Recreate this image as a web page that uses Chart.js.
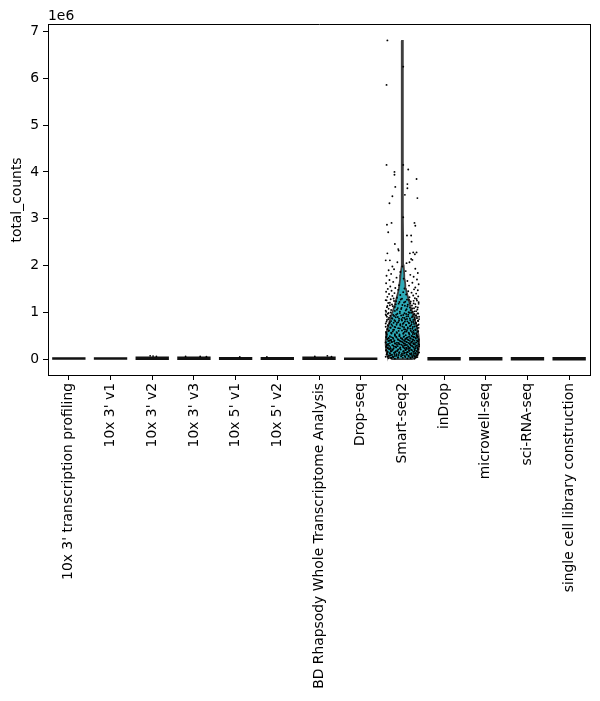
<!DOCTYPE html>
<html>
<head>
<meta charset="utf-8">
<script src="https://cdn.jsdelivr.net/npm/chart.js@4.4.1/dist/chart.umd.min.js"></script>
<style>
html,body{margin:0;padding:0;background:#fff;}
#wrap{width:600px;height:701px;}
</style>
</head>
<body>
<div id="wrap"><canvas id="c" width="600" height="701"></canvas></div>
<script>
// ---- data ----
const categories = [
  "10x 3' transcription profiling", "10x 3' v1", "10x 3' v2", "10x 3' v3",
  "10x 5' v1", "10x 5' v2", "BD Rhapsody Whole Transcriptome Analysis",
  "Drop-seq", "Smart-seq2", "inDrop", "microwell-seq", "sci-RNA-seq",
  "single cell library construction"
];
const yTicks = [0, 1, 2, 3, 4, 5, 6, 7]; // in units of 1e6
const yScaleFactor = 1e6;
const smartIndex = 8;

// Smart-seq2 violin: value (1e6) and half width (category units)
const violinValues = [0.0, 0.05, 0.12, 0.2, 0.3, 0.4, 0.5, 0.6, 0.7, 0.8, 0.9, 1.0, 1.1, 1.2, 1.3, 1.4, 1.5, 1.6, 1.7, 1.8, 2.0, 2.3, 2.6, 3.0, 3.5, 4.0, 4.5, 5.0, 6.0, 6.8];
const violinHalfWidth = [0.25, 0.33, 0.37, 0.39, 0.4, 0.4, 0.39, 0.37, 0.34, 0.31, 0.28, 0.24, 0.2, 0.17, 0.14, 0.11, 0.085, 0.07, 0.055, 0.045, 0.03, 0.02, 0.015, 0.012, 0.012, 0.012, 0.011, 0.011, 0.01, 0.01];

// Smart-seq2 cells: [jitter offset, total_counts (1e6)]
const smartPoints = [
  [-0.36,6.81],[0.02,6.25],[-0.38,5.86],[-0.38,4.15],[0.02,4.15],[0.14,4.05],[-0.19,4.0],[-0.19,3.94],[0.34,3.85],[0.12,3.74],
  [-0.17,3.68],[0.12,3.65],[0.36,3.44],[-0.24,3.48],[0.06,3.51],[-0.31,3.33],[0.02,3.03],[-0.26,2.91],[-0.37,2.87],[0.29,2.91],
  [0.31,2.85],[-0.34,2.71],[0.11,2.64],[0.21,2.64],[-0.18,2.46],[0.22,2.51],[-0.1,2.35],[-0.09,2.32],[-0.36,2.26],[0.18,2.26],
  [0.26,2.28],[0.34,2.28],[0.3,2.24],[-0.4,2.11],[-0.3,2.11],[0.21,2.14],[0.24,2.12],[-0.12,2.07],[0.1,2.05],[0.17,2.07],
  [-0.24,1.98],[-0.2,1.92],[0.0,1.98],
  [0.31,1.93],[-0.33,1.9],[0.08,1.88],[-0.05,1.86],[0.37,1.84],[-0.27,1.82],[0.19,1.8],[-0.38,1.78],[0.27,1.76],[-0.14,1.74],
  [0.03,1.72],[0.35,1.7],[-0.31,1.69],[0.12,1.67],[-0.22,1.65],[0.24,1.63],[-0.39,1.62],[0.39,1.6],[-0.08,1.58],[0.16,1.57],
  [-0.29,1.55],[0.31,1.53],[-0.17,1.52],[0.05,1.51],[-0.35,1.5],
  [0.28,1.49],[-0.1,1.48],[0.37,1.47],[-0.26,1.46],[0.14,1.45],[-0.39,1.44],[0.02,1.43],[0.22,1.42],[-0.19,1.41],[0.33,1.4],
  [-0.32,1.39],[0.09,1.38],[-0.05,1.37],[0.26,1.36],[-0.24,1.35],[0.38,1.34],[-0.36,1.33],[0.17,1.32],[-0.13,1.31],[0.3,1.3],
  [-0.01,1.29],[-0.28,1.28],[0.11,1.27],[-0.4,1.26],[0.35,1.25],[-0.2,1.24],[0.2,1.23],[-0.07,1.22],[0.04,1.21],[-0.34,1.2],
  [0.27,1.19],[0.39,1.18],[-0.16,1.17],[0.13,1.16],[-0.3,1.15],[0.06,1.14],[-0.23,1.13],[0.32,1.12],[-0.37,1.11],[0.18,1.1],
  [-0.11,1.09],[0.24,1.08],[-0.03,1.07],[0.36,1.06],[-0.27,1.05],[0.08,1.04],[-0.18,1.03],[0.29,1.02],[-0.39,1.01],[0.15,1.0],
  [0.21,0.99],[-0.33,0.985],[0.05,0.98],[0.38,0.975],[-0.12,0.97],[0.29,0.962],[-0.4,0.955],[0.14,0.95],[-0.22,0.944],[0.33,0.938],
  [-0.03,0.93],[-0.29,0.925],[0.24,0.918],[0.1,0.912],[-0.37,0.905],[0.35,0.9],[-0.16,0.893],[0.01,0.887],[0.3,0.88],[-0.25,0.874],
  [0.18,0.868],[-0.08,0.861],[0.4,0.855],[-0.34,0.85],[0.07,0.843],[0.26,0.837],[-0.19,0.83],[-0.01,0.825],[0.37,0.818],[-0.27,0.812],
  [0.12,0.806],[-0.38,0.8],[0.22,0.794],[-0.1,0.788],[0.32,0.782],[-0.21,0.776],[0.03,0.77],[0.16,0.764],[-0.31,0.758],[0.28,0.752],
  [-0.05,0.746],[0.39,0.74],[-0.14,0.734],[0.09,0.728],[-0.35,0.722],[0.2,0.716],[-0.24,0.71],[0.34,0.704],[0.0,0.698],[-0.4,0.692],
  [0.25,0.686],[-0.17,0.68],[0.13,0.674],[-0.28,0.668],[0.36,0.662],[-0.06,0.656],[0.19,0.65],[-0.36,0.644],[0.04,0.638],[0.31,0.632],
  [-0.2,0.626],[0.11,0.62],[-0.32,0.614],[0.27,0.608],[-0.09,0.602],[0.38,0.596],[-0.23,0.59],[0.06,0.584],[0.23,0.578],[-0.39,0.572],
  [0.15,0.566],[-0.13,0.56],[0.33,0.554],[-0.26,0.548],[0.02,0.542],[0.29,0.536],[-0.18,0.53],[0.17,0.524],[-0.37,0.518],[0.08,0.512],
  [0.35,0.506],[-0.07,0.5],
  [0.22,0.495],[-0.3,0.49],[0.04,0.486],[0.37,0.481],[-0.15,0.477],[0.28,0.472],[-0.39,0.468],[0.12,0.463],[-0.23,0.459],[0.32,0.454],
  [-0.04,0.45],[-0.33,0.445],[0.19,0.441],[0.09,0.436],[-0.36,0.432],[0.39,0.427],[-0.11,0.423],[0.0,0.418],[0.26,0.414],[-0.27,0.409],
  [0.15,0.405],[-0.07,0.4],[0.35,0.396],[-0.31,0.391],[0.06,0.387],[0.24,0.382],[-0.2,0.378],[-0.02,0.373],[0.38,0.369],[-0.25,0.364],
  [0.11,0.36],[-0.4,0.355],[0.21,0.351],[-0.09,0.346],[0.3,0.342],[-0.18,0.337],[0.03,0.333],[0.17,0.328],[-0.34,0.324],[0.27,0.319],
  [-0.06,0.315],[0.4,0.31],[-0.13,0.306],[0.08,0.301],[-0.37,0.297],[0.2,0.292],[-0.22,0.288],[0.33,0.283],[0.01,0.279],[-0.38,0.274],
  [0.25,0.27],[-0.16,0.265],[0.14,0.261],[-0.29,0.256],[0.36,0.252],[-0.05,0.247],[0.18,0.243],[-0.35,0.238],[0.05,0.234],[0.31,0.229],
  [-0.21,0.225],[0.1,0.22],[-0.32,0.216],[0.29,0.211],[-0.1,0.207],[0.37,0.202],[-0.24,0.198],[0.07,0.193],[0.23,0.189],[-0.39,0.184],
  [0.16,0.18],[-0.12,0.175],[0.34,0.171],[-0.26,0.166],[0.02,0.162],[0.28,0.157],[-0.17,0.153],[0.13,0.148],[-0.36,0.144],[0.09,0.139],
  [0.38,0.135],[-0.08,0.13],[0.22,0.126],[-0.3,0.121],[0.04,0.117],[0.32,0.112],[-0.19,0.108],[0.19,0.103],[-0.38,0.099],[0.11,0.094],
  [-0.03,0.09],[0.26,0.085],[-0.28,0.081],[0.36,0.076],[-0.14,0.072],[0.06,0.067],[0.3,0.063],[-0.23,0.058],[0.15,0.054],[-0.35,0.049],
  [0.24,0.045],[-0.1,0.04],[0.33,0.036],[-0.27,0.031],[0.01,0.027],[0.2,0.022],[-0.33,0.018],[0.12,0.013],[-0.18,0.009],[0.29,0.005]
];

// more Smart-seq2 cells in the dense lower part (parallel arrays)
const smartDenseJitter = [
  -0.21,0.34,-0.04,0.16,-0.38,0.27,-0.15,0.07,0.39,-0.3,0.19,-0.09,0.31,-0.25,0.0,0.23,-0.36,0.12,-0.18,0.37,
  -0.02,0.28,-0.33,0.1,-0.13,0.2,-0.4,0.33,-0.06,0.25,
  -0.28,0.17,-0.06,0.36,-0.35,0.09,0.27,-0.15,0.02,-0.39,0.31,-0.2,0.14,0.4,-0.11,0.23,-0.32,0.05,0.35,-0.24,
  0.11,-0.02,0.3,-0.37,0.19,-0.08,0.38,-0.17,0.06,0.26,-0.3,0.15,-0.13,0.33,-0.4,0.01,0.22,-0.26,0.09,0.37,
  -0.05,-0.34,0.18,0.29,-0.19,0.04,-0.29,0.39,-0.1,0.13,0.24,-0.36,0.07,-0.22,0.32,-0.01,0.2,-0.33,0.1,0.36,
  -0.14,0.27,-0.27,0.03,0.16,-0.38,0.25,-0.07,0.34,-0.18,
  -0.18,0.34,-0.07,0.25,-0.38,0.16,0.03,-0.27,0.27,-0.14,0.36,0.1,-0.33,0.2,-0.01,0.32,-0.22,0.07,-0.36,0.24,
  0.13,-0.1,0.39,-0.29,0.04,-0.19,0.29,0.18,-0.34,-0.05,0.37,0.09,-0.26,0.22,0.01,-0.4,0.33,-0.13,0.15,-0.3,
  0.26,0.06,-0.17,0.38,-0.08,0.19,-0.37,0.3,-0.02,0.11,-0.24,0.35,0.05,-0.32,0.23,-0.11,0.4,0.14,-0.2,0.31,
  -0.39,0.02,-0.15,0.27,0.09,-0.35,0.36,-0.06,0.17,-0.28,
  0.14,-0.31,0.38,-0.04,0.21,-0.23,0.08,-0.39,0.3,-0.12,0.17,-0.28,0.03,0.35,-0.16,0.26,-0.35,0.12,-0.07,0.4,
  -0.2,0.05,0.32,-0.3,0.18,-0.01,0.28,-0.37,0.1,-0.14,0.37,-0.25,0.22,-0.09,0.01,0.34,-0.32,0.15,-0.18,0.29,
  -0.03,0.24,-0.4,0.07,0.36,-0.22,0.19,-0.11,0.31,-0.26
];
const smartDenseCounts = [
  1.295,1.285,1.275,1.265,1.255,1.245,1.235,1.225,1.215,1.205,1.195,1.185,1.175,1.165,1.155,1.145,1.135,1.125,1.115,1.105,
  1.095,1.085,1.075,1.065,1.055,1.045,1.035,1.025,1.015,1.005,
  0.997,0.990,0.983,0.976,0.969,0.962,0.955,0.948,0.941,0.934,0.927,0.920,0.913,0.906,0.899,0.892,0.885,0.878,0.871,0.864,
  0.857,0.850,0.843,0.836,0.829,0.822,0.815,0.808,0.801,0.794,0.787,0.780,0.773,0.766,0.759,0.752,0.745,0.738,0.731,0.724,
  0.717,0.710,0.703,0.696,0.689,0.682,0.675,0.668,0.661,0.654,0.647,0.640,0.633,0.626,0.619,0.612,0.605,0.598,0.591,0.584,
  0.577,0.570,0.563,0.556,0.549,0.542,0.535,0.528,0.521,0.514,
  0.498,0.494,0.490,0.486,0.482,0.478,0.474,0.470,0.466,0.462,0.458,0.454,0.450,0.446,0.442,0.438,0.434,0.430,0.426,0.422,
  0.418,0.414,0.410,0.406,0.402,0.398,0.394,0.390,0.386,0.382,0.378,0.374,0.370,0.366,0.362,0.358,0.354,0.350,0.346,0.342,
  0.338,0.334,0.330,0.326,0.322,0.318,0.314,0.310,0.306,0.302,0.298,0.294,0.290,0.286,0.282,0.278,0.274,0.270,0.266,0.262,
  0.258,0.254,0.250,0.246,0.242,0.238,0.234,0.230,0.226,0.222,
  0.218,0.214,0.210,0.206,0.202,0.198,0.194,0.190,0.186,0.182,0.178,0.174,0.170,0.166,0.162,0.158,0.154,0.150,0.146,0.142,
  0.138,0.134,0.130,0.126,0.122,0.118,0.114,0.110,0.106,0.102,0.098,0.094,0.090,0.086,0.082,0.078,0.074,0.070,0.066,0.062,
  0.058,0.054,0.050,0.046,0.042,0.038,0.034,0.030,0.026,0.022
];

// Other assays: typical total_counts level (1e6) of the flat strip
const stripLevel = [0.01, 0.01, 0.02, 0.02, 0.015, 0.015, 0.02, 0.005, null, 0.005, 0.005, 0.005, 0.005];
// a few higher cells visible above the strips: [category, jitter offset, value (1e6)]
const stripOutliers = [
  [2,-0.05,0.07],[2,0.1,0.06],[2,0.02,0.065],[3,-0.2,0.06],[3,0.15,0.055],[3,0.3,0.05],
  [4,0.1,0.045],[5,-0.25,0.045],[6,-0.1,0.06],[6,0.2,0.07],[6,0.3,0.05]
];

// ---- styles ----
const stripWidth = 0.4;
const stripThickness = [2.5, 2.5, 3.5, 3.5, 3, 3, 3.5, 2.5, 0, 3.5, 3.5, 3.5, 3.5];
const violinFill = '#2eabb8';
const violinEdge = '#3f3f3f';
const FONT = "'DejaVu Sans', sans-serif";
const FS = 13.9;

// ---- build datasets ----
const datasets = [];
const violinShape = [];
for (let k = 0; k < violinValues.length; k++) {
  violinShape.push({x: smartIndex + violinHalfWidth[k], y: violinValues[k] * yScaleFactor});
}
for (let k = violinValues.length - 1; k >= 0; k--) {
  violinShape.push({x: smartIndex - violinHalfWidth[k], y: violinValues[k] * yScaleFactor});
}
violinShape.push(violinShape[0]);
datasets.push({
  type: 'scatter', data: violinShape, showLine: true, fill: 'shape',
  backgroundColor: violinFill, borderColor: violinEdge, borderWidth: 1.8,
  pointRadius: 0, tension: 0, order: 3
});
stripLevel.forEach((lvl, i) => {
  if (lvl === null) return;
  datasets.push({
    type: 'scatter', showLine: true,
    data: [{x: i - stripWidth, y: lvl * yScaleFactor}, {x: i + stripWidth, y: lvl * yScaleFactor}],
    borderColor: '#111', borderWidth: stripThickness[i], pointRadius: 0, order: 2
  });
});
datasets.push({
  type: 'scatter',
  data: stripOutliers.map(p => ({x: p[0] + p[1], y: p[2] * yScaleFactor})),
  backgroundColor: '#000', borderWidth: 0, pointRadius: 0.9, order: 1
});
const smartData = smartPoints.map(p => ({x: smartIndex + p[0], y: p[1] * yScaleFactor}));
smartDenseCounts.forEach((v, k) => {
  smartData.push({x: smartIndex + smartDenseJitter[k], y: v * yScaleFactor});
});
datasets.push({
  type: 'scatter', data: smartData,
  backgroundColor: '#000', borderWidth: 0, pointRadius: 0.95, order: 0
});

const tickFont = {family: FONT, size: FS};

new Chart(document.getElementById('c'), {
  type: 'scatter',
  data: {datasets},
  options: {
    responsive: false,
    animation: false,
    devicePixelRatio: 1,
    layout: {padding: {left: 0, right: 10, top: 0, bottom: 0}},
    plugins: {
      legend: {display: false},
      tooltip: {enabled: false},
      title: {
        display: true, text: '1e6', align: 'start', fullSize: false,
        color: '#000', font: {family: FONT, size: FS, weight: 'normal'},
        padding: {top: 8.3, bottom: 0}
      }
    },
    scales: {
      x: {
        type: 'linear', position: 'bottom', min: -0.5, max: 12.5,
        afterBuildTicks: s => { s.ticks = categories.map((_, i) => ({value: i})); },
        afterFit: s => { s.height = 326; },
        ticks: {
          autoSkip: false, maxRotation: 90, minRotation: 90, padding: 3,
          color: '#000', font: tickFont,
          callback: v => categories[v]
        },
        grid: {drawOnChartArea: false, drawTicks: true, tickLength: 5, color: '#000'},
        border: {display: true, color: '#000', width: 1}
      },
      y: {
        type: 'linear', position: 'left', min: -0.34e6, max: 7.14e6,
        afterBuildTicks: s => { s.ticks = yTicks.map(v => ({value: v * yScaleFactor})); },
        afterFit: s => { s.width = 48; },
        ticks: {
          padding: 4, color: '#000', font: tickFont,
          callback: v => String(v / yScaleFactor)
        },
        title: {
          display: true, text: 'total_counts', color: '#000',
          font: {family: FONT, size: FS}, padding: {top: 9.5, bottom: 0}
        },
        grid: {drawOnChartArea: false, drawTicks: true, tickLength: 5, color: '#000'},
        border: {display: true, color: '#000', width: 1}
      },
      x2: {
        type: 'linear', position: 'top', min: 0, max: 1,
        afterFit: s => { s.height = 0; },
        ticks: {display: false}, grid: {display: false},
        border: {display: true, color: '#000', width: 1}
      },
      y2: {
        type: 'linear', position: 'right', min: 0, max: 1,
        afterFit: s => { s.width = 0; },
        ticks: {display: false}, grid: {display: false},
        border: {display: true, color: '#000', width: 1}
      }
    }
  }
});
</script>
</body>
</html>
